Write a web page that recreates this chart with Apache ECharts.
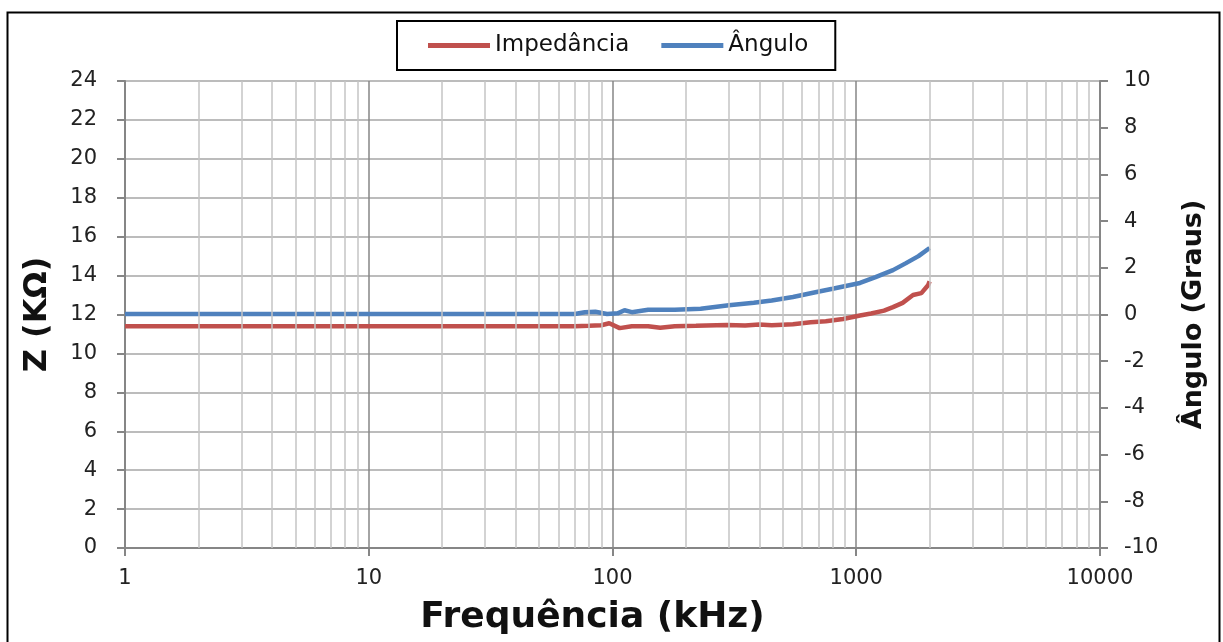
<!DOCTYPE html>
<html>
<head>
<meta charset="utf-8">
<script src="https://cdn.jsdelivr.net/npm/echarts@6/dist/echarts.min.js"></script>
<style>html,body{margin:0;padding:0;background:#fff}#c{width:1223px;height:642px}</style>
</head>
<body>
<div id="c"></div>
<script>
// Frequency (kHz) for the impedance curve and its values (kΩ)
const zFreq = [1, 2, 5, 10, 20, 50, 70, 80, 90, 97, 107, 120, 140, 157, 180, 220, 295, 350, 400, 450, 550, 650, 750, 883, 1036, 1150, 1300, 1415, 1550, 1710, 1850, 1970, 2000];
const zVals = [11.4, 11.4, 11.4, 11.4, 11.4, 11.4, 11.4, 11.42, 11.45, 11.55, 11.3, 11.4, 11.4, 11.32, 11.4, 11.42, 11.46, 11.44, 11.48, 11.45, 11.5, 11.6, 11.65, 11.77, 11.95, 12.05, 12.2, 12.38, 12.6, 13.0, 13.1, 13.5, 13.7];
// Frequency (kHz) for the angle curve and its values (degrees)
const aFreq = [1, 2, 5, 10, 20, 50, 70, 77, 85, 95, 105, 112, 120, 140, 180, 230, 300, 380, 450, 550, 680, 800, 1036, 1200, 1415, 1600, 1800, 2000];
const aVals = [0.02, 0.02, 0.02, 0.02, 0.02, 0.02, 0.02, 0.1, 0.12, 0.02, 0.05, 0.18, 0.1, 0.2, 0.2, 0.25, 0.4, 0.5, 0.6, 0.75, 0.95, 1.1, 1.35, 1.6, 1.9, 2.2, 2.5, 2.85];
// Minor vertical grid positions of the log axis
const minorGrid = [2,3,4,5,6,7,8,9,20,30,40,50,60,70,80,90,200,300,400,500,600,700,800,900,2000,3000,4000,5000,6000,7000,8000,9000];
const seriesNames = ['Impedância', 'Ângulo'];

const FONT = 'DejaVu Sans';
const chart = echarts.init(document.getElementById('c'), null, {renderer: 'canvas'});
const zip = (xs, ys) => xs.map((x, i) => [x, ys[i]]);

chart.setOption({
  animation: false,
  backgroundColor: '#fff',
  graphic: [{
    type: 'rect', left: 5, top: 10, silent: true,
    shape: {width: 1212, height: 640},
    style: {fill: 'none', stroke: '#000', lineWidth: 2}
  }],
  legend: {
    data: seriesNames,
    left: 397, top: 21,
    padding: [13, 27, 13, 31],
    borderColor: '#000', borderWidth: 2,
    icon: 'rect', itemWidth: 62, itemHeight: 5, itemGap: 32,
    textStyle: {fontFamily: FONT, fontSize: 23, color: '#111'}
  },
  grid: {left: 125, right: 123, top: 81, bottom: 94, containLabel: false, outerBoundsMode: 'none'},
  xAxis: {
    type: 'log', logBase: 10, min: 1, max: 10000,
    name: 'Frequência (kHz)', nameLocation: 'middle', nameGap: 52,
    nameTextStyle: {fontFamily: FONT, fontSize: 36, fontWeight: 'bold', color: '#111', padding: [0, 40, 0, 0]},
    axisLine: {lineStyle: {color: '#868686', width: 2}},
    axisTick: {show: true, length: 8, lineStyle: {color: '#868686', width: 2}},
    axisLabel: {fontFamily: FONT, fontSize: 21, color: '#222', margin: 20,
      formatter: v => String(Math.round(v))},
    splitLine: {show: true, lineStyle: {color: '#868686', width: 1.5}},
    minorTick: {show: false}, minorSplitLine: {show: false}
  },
  yAxis: [{
    type: 'value', min: 0, max: 24, interval: 2,
    name: 'Z (KΩ)', nameLocation: 'middle', nameGap: 71,
    nameTextStyle: {fontFamily: FONT, fontSize: 32, fontWeight: 'bold', color: '#111'},
    axisLine: {show: true, lineStyle: {color: '#868686', width: 2}},
    axisTick: {show: true, length: 8, lineStyle: {color: '#868686', width: 2}},
    axisLabel: {fontFamily: FONT, fontSize: 21, color: '#222', margin: 28},
    splitLine: {show: true, lineStyle: {color: '#a6a6a6', width: 1.5}}
  }, {
    type: 'value', min: -10, max: 10, interval: 2, position: 'right',
    name: 'Ângulo (Graus)', nameLocation: 'middle', nameGap: 80,
    nameTextStyle: {fontFamily: FONT, fontSize: 27, fontWeight: 'bold', color: '#111'},
    axisLine: {show: true, lineStyle: {color: '#868686', width: 2}},
    axisTick: {show: true, length: 8, lineStyle: {color: '#868686', width: 2}},
    axisLabel: {fontFamily: FONT, fontSize: 21, color: '#222', margin: 24},
    splitLine: {show: false}
  }],
  series: [{
    name: 'minor-grid', type: 'line', data: [], z: 1, silent: true,
    markLine: {
      silent: true, symbol: 'none', animation: false,
      label: {show: false},
      lineStyle: {color: '#c4c4c4', width: 1.5, type: 'solid'},
      emphasis: {disabled: true},
      data: minorGrid.map(v => ({xAxis: v}))
    }
  }, {
    name: seriesNames[0], type: 'line', yAxisIndex: 0, z: 3,
    data: zip(zFreq, zVals), showSymbol: false, symbol: 'none',
    color: '#C0504D', lineStyle: {color: '#C0504D', width: 4.5}
  }, {
    name: seriesNames[1], type: 'line', yAxisIndex: 1, z: 3,
    data: zip(aFreq, aVals), showSymbol: false, symbol: 'none',
    color: '#4F81BD', lineStyle: {color: '#4F81BD', width: 4.5}
  }]
});
</script>
</body>
</html>
